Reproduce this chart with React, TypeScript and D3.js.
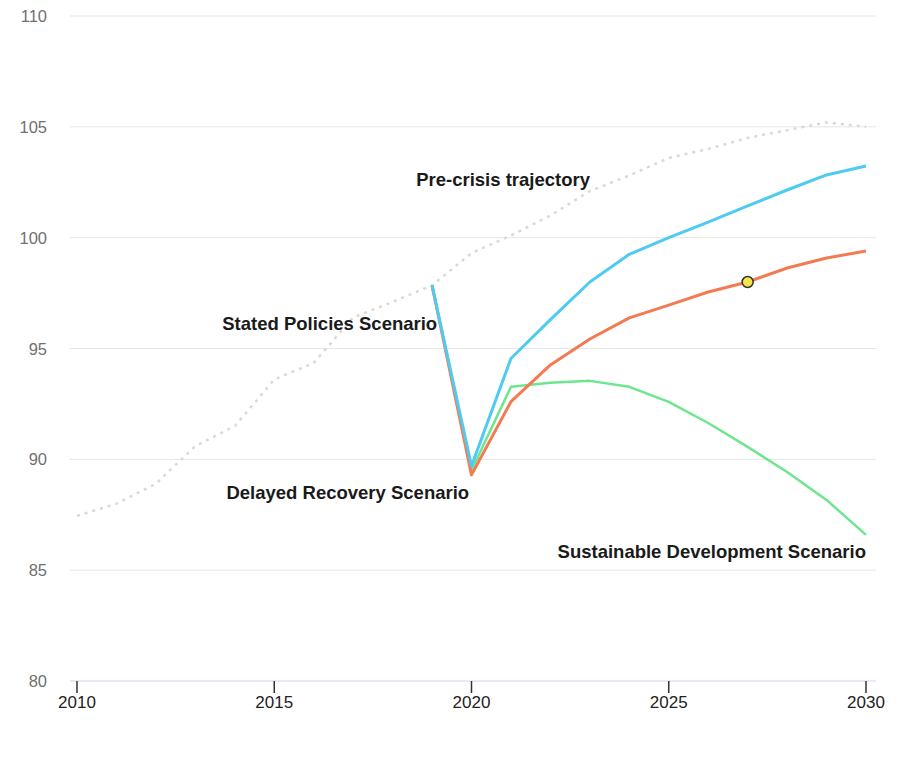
import React, { useEffect, useRef } from "react";
import * as d3 from "d3";

// Years shared by every series
const years = d3.range(2010, 2031);

// Pre-crisis trajectory, 2010-2030
const preCrisis = [
  87.45, 88.0, 88.9, 90.6, 91.5, 93.6, 94.35, 96.4, 97.1, 97.85, 99.3,
  100.1, 101.0, 102.1, 102.8, 103.6, 104.0, 104.5, 104.85, 105.2, 105.0,
];

// Scenario years, 2019-2030
const scenarioYears = d3.range(2019, 2031);
const statedPolicies = [97.85, 89.7, 94.55, 96.3, 98.0, 99.25, 100.0, 100.7, 101.43, 102.15, 102.83, 103.23];
const delayedRecovery = [97.85, 89.3, 92.6, 94.26, 95.43, 96.38, 96.96, 97.55, 98.0, 98.63, 99.08, 99.4];
const sustainableDev = [97.85, 89.5, 93.27, 93.45, 93.54, 93.27, 92.59, 91.64, 90.56, 89.43, 88.17, 86.59];

const yTicks = [80, 85, 90, 95, 100, 105, 110];
const xTicks = [2010, 2015, 2020, 2025, 2030];

// Series label anchors (year, value)
const labels = [
  { text: "Pre-crisis trajectory", year: 2020.8, value: 102.33, anchor: "middle" },
  { text: "Stated Policies Scenario", year: 2019.13, value: 95.84, anchor: "end" },
  { text: "Delayed Recovery Scenario", year: 2019.94, value: 88.21, anchor: "end" },
  { text: "Sustainable Development Scenario", year: 2030, value: 85.55, anchor: "end" },
];

const highlightYear = 2027;

const App: React.FC = () => {
  const svgRef = useRef<SVGSVGElement>(null);

  useEffect(() => {
    if (!svgRef.current) return;
    const svg = d3.select(svgRef.current);
    svg.selectAll("*").remove();

    const font = "'Liberation Sans', Arial, Helvetica, sans-serif";
    const plotLeft = 70;
    const plotRight = 876;

    const xScale = d3.scaleLinear().domain([2010, 2030]).range([77, 866]);
    const yScale = d3.scaleLinear().domain([80, 110]).range([681, 16]);

    // Grid lines
    svg.append("g")
      .selectAll("line")
      .data(yTicks.filter(t => t !== 80))
      .join("line")
      .attr("x1", plotLeft)
      .attr("x2", plotRight)
      .attr("y1", d => yScale(d))
      .attr("y2", d => yScale(d))
      .attr("stroke", "#e6e6e6")
      .attr("stroke-width", 1);

    // Y labels
    svg.append("g")
      .selectAll("text")
      .data(yTicks)
      .join("text")
      .attr("x", 47)
      .attr("y", d => yScale(d) + 6)
      .attr("text-anchor", "end")
      .attr("font-family", font)
      .attr("font-size", 16.5)
      .attr("fill", "#707070")
      .text(d => d);

    // X axis
    svg.append("line")
      .attr("x1", plotLeft)
      .attr("x2", plotRight)
      .attr("y1", yScale(80))
      .attr("y2", yScale(80))
      .attr("stroke", "#ccd6eb")
      .attr("stroke-width", 1);

    const xg = svg.append("g");
    xg.selectAll("line")
      .data(xTicks)
      .join("line")
      .attr("x1", d => xScale(d))
      .attr("x2", d => xScale(d))
      .attr("y1", yScale(80))
      .attr("y2", yScale(80) + 12)
      .attr("stroke", "#333")
      .attr("stroke-width", 1.5);
    xg.selectAll("text")
      .data(xTicks)
      .join("text")
      .attr("x", d => xScale(d))
      .attr("y", yScale(80) + 27)
      .attr("text-anchor", "middle")
      .attr("font-family", font)
      .attr("font-size", 17)
      .attr("fill", "#222")
      .text(d => d);

    const line = d3.line<[number, number]>()
      .x(d => xScale(d[0]))
      .y(d => yScale(d[1]))
      .curve(d3.curveLinear);

    // Pre-crisis dotted line
    svg.append("path")
      .datum(years.map((y, i) => [y, preCrisis[i]] as [number, number]))
      .attr("fill", "none")
      .attr("stroke", "#d9d9d9")
      .attr("stroke-width", 2.5)
      .attr("stroke-dasharray", "3,5")
      .attr("d", line);

    const scenarios = [
      { values: sustainableDev, color: "#6ee68f", width: 2.5 },
      { values: delayedRecovery, color: "#f47a52", width: 3 },
      { values: statedPolicies, color: "#4fcbf2", width: 3 },
    ];

    scenarios.forEach(s => {
      svg.append("path")
        .datum(scenarioYears.map((y, i) => [y, s.values[i]] as [number, number]))
        .attr("fill", "none")
        .attr("stroke", s.color)
        .attr("stroke-width", s.width)
        .attr("stroke-linejoin", "round")
        .attr("d", line);
    });

    // Highlighted point
    const hi = scenarioYears.indexOf(highlightYear);
    svg.append("circle")
      .attr("cx", xScale(highlightYear))
      .attr("cy", yScale(delayedRecovery[hi]))
      .attr("r", 5.5)
      .attr("fill", "#f7e64a")
      .attr("stroke", "#333")
      .attr("stroke-width", 1.5);

    // Series labels
    svg.append("g")
      .selectAll("text")
      .data(labels)
      .join("text")
      .attr("x", d => xScale(d.year))
      .attr("y", d => yScale(d.value))
      .attr("text-anchor", d => d.anchor)
      .attr("font-family", font)
      .attr("font-size", 18.5)
      .attr("font-weight", "bold")
      .attr("fill", "#1a1a1a")
      .text(d => d.text);
  }, []);

  return (
    <div style={{ position: "fixed", left: 0, top: 0, width: 910, height: 757, background: "white" }}>
      <svg ref={svgRef} width={910} height={757} style={{ display: "block" }} />
    </div>
  );
};

export default App;
